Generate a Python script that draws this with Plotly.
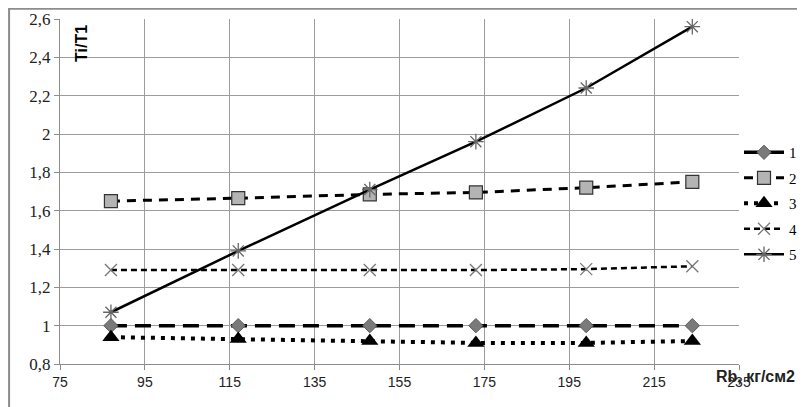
import plotly.graph_objects as go

# Rb values (x) and Ti/T1 ratios for each series
rb = [87, 117, 148, 173, 199, 224]
s1 = [1.0, 1.0, 1.0, 1.0, 1.0, 1.0]
s2 = [1.65, 1.665, 1.685, 1.695, 1.72, 1.75]
s3 = [0.94, 0.93, 0.92, 0.91, 0.91, 0.92]
s4 = [1.29, 1.29, 1.29, 1.29, 1.295, 1.31]
s5 = [1.07, 1.39, 1.71, 1.96, 2.24, 2.56]
names = ["1", "2", "3", "4", "5"]

styles = [
    dict(line=dict(color="black", width=3.5, dash="16px,8px"),
         marker=dict(symbol="diamond", size=11, color="#7a7a7a", line=dict(color="#5a5a5a", width=1))),
    dict(line=dict(color="black", width=3, dash="9px,7px"),
         marker=dict(symbol="square", size=13, color="#b4b4b4", line=dict(color="#333333", width=1.2))),
    dict(line=dict(color="black", width=4, dash="4px,6px"),
         marker=dict(symbol="triangle-up", size=15, color="black")),
    dict(line=dict(color="black", width=2.5, dash="6px,4px"),
         marker=dict(symbol="x-thin-open", size=12, color="#777777", line=dict(color="#777777", width=1.3))),
    dict(line=dict(color="black", width=2.5),
         marker=dict(symbol="asterisk-open", size=13, color="#666666", line=dict(color="#666666", width=1.3))),
]

fig = go.Figure()
for name, ys, st in zip(names, [s1, s2, s3, s4, s5], styles):
    fig.add_trace(go.Scatter(x=rb, y=ys, mode="lines+markers", name=name,
                             legendgroup=name, line=st["line"], marker=st["marker"]))

fig.update_layout(
    width=805, height=407,
    margin=dict(l=52, r=70, t=11, b=51),
    paper_bgcolor="white", plot_bgcolor="white",
    separators=", ",
    showlegend=True,
    legend=dict(x=1.0, y=0.465, xanchor="left", yanchor="middle",
                font=dict(family="Liberation Serif", size=15, color="black"),
                tracegroupgap=3, itemwidth=40, bgcolor="rgba(0,0,0,0)"),
    xaxis=dict(range=[75, 235], dtick=20, tick0=75, showgrid=True, gridcolor="#9c9c9c",
               gridwidth=1, showline=True, linecolor="#8c8c8c", ticks="outside",
               ticklen=5, tickcolor="#8c8c8c", zeroline=False, automargin=False,
               tickfont=dict(family="Liberation Sans", size=14, color="#222222")),
    yaxis=dict(range=[0.8, 2.6], dtick=0.2, showgrid=True, gridcolor="#9c9c9c",
               gridwidth=1, showline=True, linecolor="#8c8c8c", ticks="outside",
               ticklen=5, tickcolor="#8c8c8c", zeroline=False, automargin=False,
               tickfont=dict(family="Liberation Serif", size=17, color="#222222")),
    shapes=[dict(type="rect", xref="paper", yref="paper", x0=-0.075, x1=1.1, y0=-0.145, y1=1.03,
                 line=dict(color="#8c8c8c", width=2))],
    annotations=[
        dict(text="<b>Ti/T1</b>", textangle=-90, x=80.2, y=2.47, xref="x", yref="y",
             showarrow=False, font=dict(family="Liberation Sans", size=16, color="black")),
        dict(text="<b>Rb, кг/см2</b>", x=1.085, y=-0.068, xref="paper", yref="paper",
             xanchor="right", yanchor="bottom", showarrow=False,
             font=dict(family="Liberation Sans", size=16, color="#222222")),
    ],
)

fig.write_html("out.html")
